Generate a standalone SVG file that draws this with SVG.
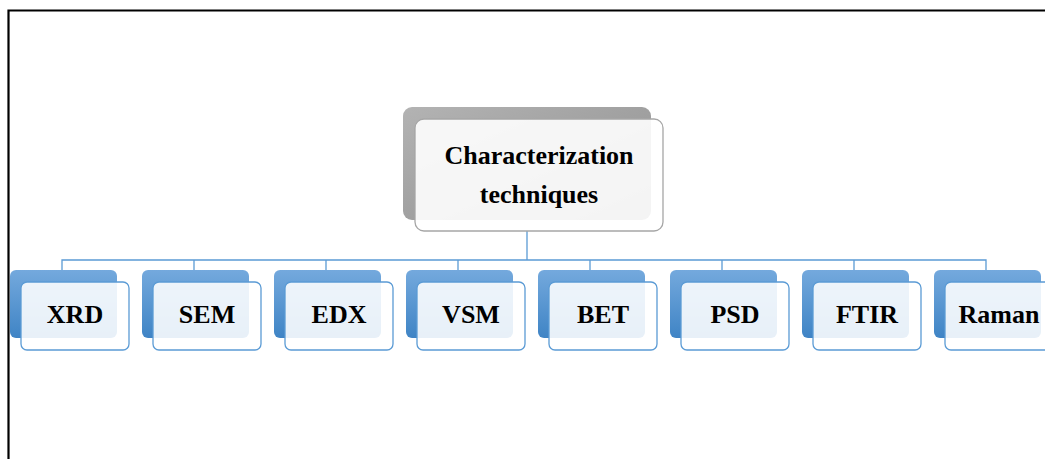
<svg xmlns="http://www.w3.org/2000/svg" width="1045" height="459" viewBox="0 0 1045 459">
<defs>
<linearGradient id="gb" x1="0" y1="0" x2="0" y2="1">
<stop offset="0" stop-color="#74a9dd"/>
<stop offset="1" stop-color="#3f84c5"/>
</linearGradient>
<linearGradient id="gg" x1="0" y1="0" x2="1" y2="1">
<stop offset="0" stop-color="#b3b3b3"/>
<stop offset="1" stop-color="#8e8e8e"/>
</linearGradient>
<style>
.sh{fill:url(#gb)}
.fr{fill:#ffffff;fill-opacity:0.88;stroke:#5b9bd5;stroke-width:1.3}
.t{font-family:"Liberation Serif","Times New Roman",serif;font-weight:bold;font-size:26px;fill:#000;text-anchor:middle}
.c{fill:none;stroke:#5b9bd5;stroke-width:1.3}
</style>
</defs>
<rect width="1045" height="459" fill="#fff"/>
<path d="M8.5 459 V10.5 H1045" fill="none" stroke="#000" stroke-width="2.2"/>
<g id="connectors">
<path class="c" d="M527 231 V260 M62 270 V260 H986 V270 M194 260 V270 M326 260 V270 M458 260 V270 M590 260 V270 M722 260 V270 M854 260 V270"/>
</g>
<g id="root">
<rect x="403" y="107" width="248" height="113" rx="9" fill="url(#gg)"/>
<rect x="415" y="119" width="248" height="112" rx="9" fill="#fff" fill-opacity="0.9" stroke="#a6a6a6" stroke-width="1.3"/>
<text class="t" x="539" y="164">Characterization</text>
<text class="t" x="539" y="203">techniques</text>
</g>
<g id="xrd"><rect class="sh" x="10" y="270" width="107" height="68" rx="6"/><rect class="fr" x="21" y="282" width="108" height="68" rx="6"/><text class="t" x="75" y="323">XRD</text></g>
<g id="sem"><rect class="sh" x="142" y="270" width="107" height="68" rx="6"/><rect class="fr" x="153" y="282" width="108" height="68" rx="6"/><text class="t" x="207" y="323">SEM</text></g>
<g id="edx"><rect class="sh" x="274" y="270" width="107" height="68" rx="6"/><rect class="fr" x="285" y="282" width="108" height="68" rx="6"/><text class="t" x="339" y="323">EDX</text></g>
<g id="vsm"><rect class="sh" x="406" y="270" width="107" height="68" rx="6"/><rect class="fr" x="417" y="282" width="108" height="68" rx="6"/><text class="t" x="471" y="323">VSM</text></g>
<g id="bet"><rect class="sh" x="538" y="270" width="107" height="68" rx="6"/><rect class="fr" x="549" y="282" width="108" height="68" rx="6"/><text class="t" x="603" y="323">BET</text></g>
<g id="psd"><rect class="sh" x="670" y="270" width="107" height="68" rx="6"/><rect class="fr" x="681" y="282" width="108" height="68" rx="6"/><text class="t" x="735" y="323">PSD</text></g>
<g id="ftir"><rect class="sh" x="802" y="270" width="107" height="68" rx="6"/><rect class="fr" x="813" y="282" width="108" height="68" rx="6"/><text class="t" x="867" y="323">FTIR</text></g>
<g id="raman"><rect class="sh" x="934" y="270" width="107" height="68" rx="6"/><rect class="fr" x="945" y="282" width="108" height="68" rx="6"/><text class="t" x="999" y="323">Raman</text></g>
</svg>
